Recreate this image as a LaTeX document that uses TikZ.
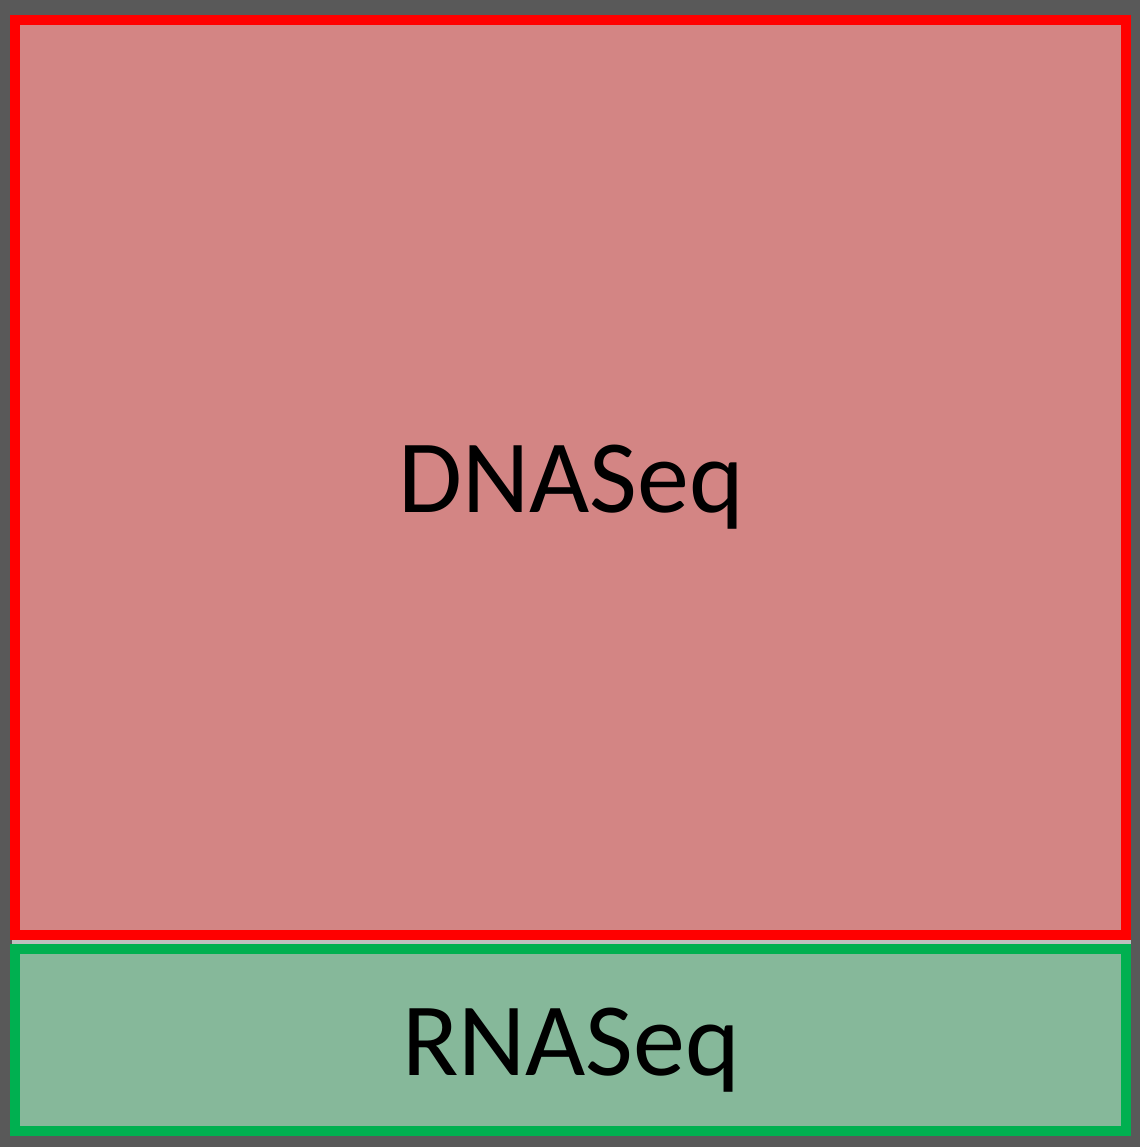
\documentclass[tikz,border=0pt]{standalone}
\usepackage{fontspec}
\setmainfont{Carlito}
\definecolor{bggray}{HTML}{595959}
\definecolor{gapgray}{HTML}{BFBFBF}
\definecolor{redline}{HTML}{FF0000}
\definecolor{redfill}{HTML}{D38584}
\definecolor{greenline}{HTML}{00B050}
\definecolor{greenfill}{HTML}{86B89A}
\tikzset{
  box/.style={draw, line width=10pt, inner sep=0pt, outer sep=0pt, rectangle},
  lbl/.style={inner sep=0pt, anchor=base, font=\fontsize{104}{110}\selectfont, text=black}
}
\begin{document}
\begin{tikzpicture}[x=1pt,y=-1pt]
\fill[bggray] (0,0) rectangle (1140,1147);
\useasboundingbox (0,0) rectangle (1140,1147);
\fill[gapgray] (12,940) rectangle (1131,944);
\node[box, draw=redline, fill=redfill, minimum width=1111pt, minimum height=915pt] (dna) at (570.5,477.5) {};
\node[box, draw=greenline, fill=greenfill, minimum width=1111pt, minimum height=182pt] (rna) at (570.5,1040) {};
\node[lbl] (dnat) at (571,512) {DNASeq};
\node[lbl] (rnat) at (571,1075) {RNASeq};
\end{tikzpicture}
\end{document}
